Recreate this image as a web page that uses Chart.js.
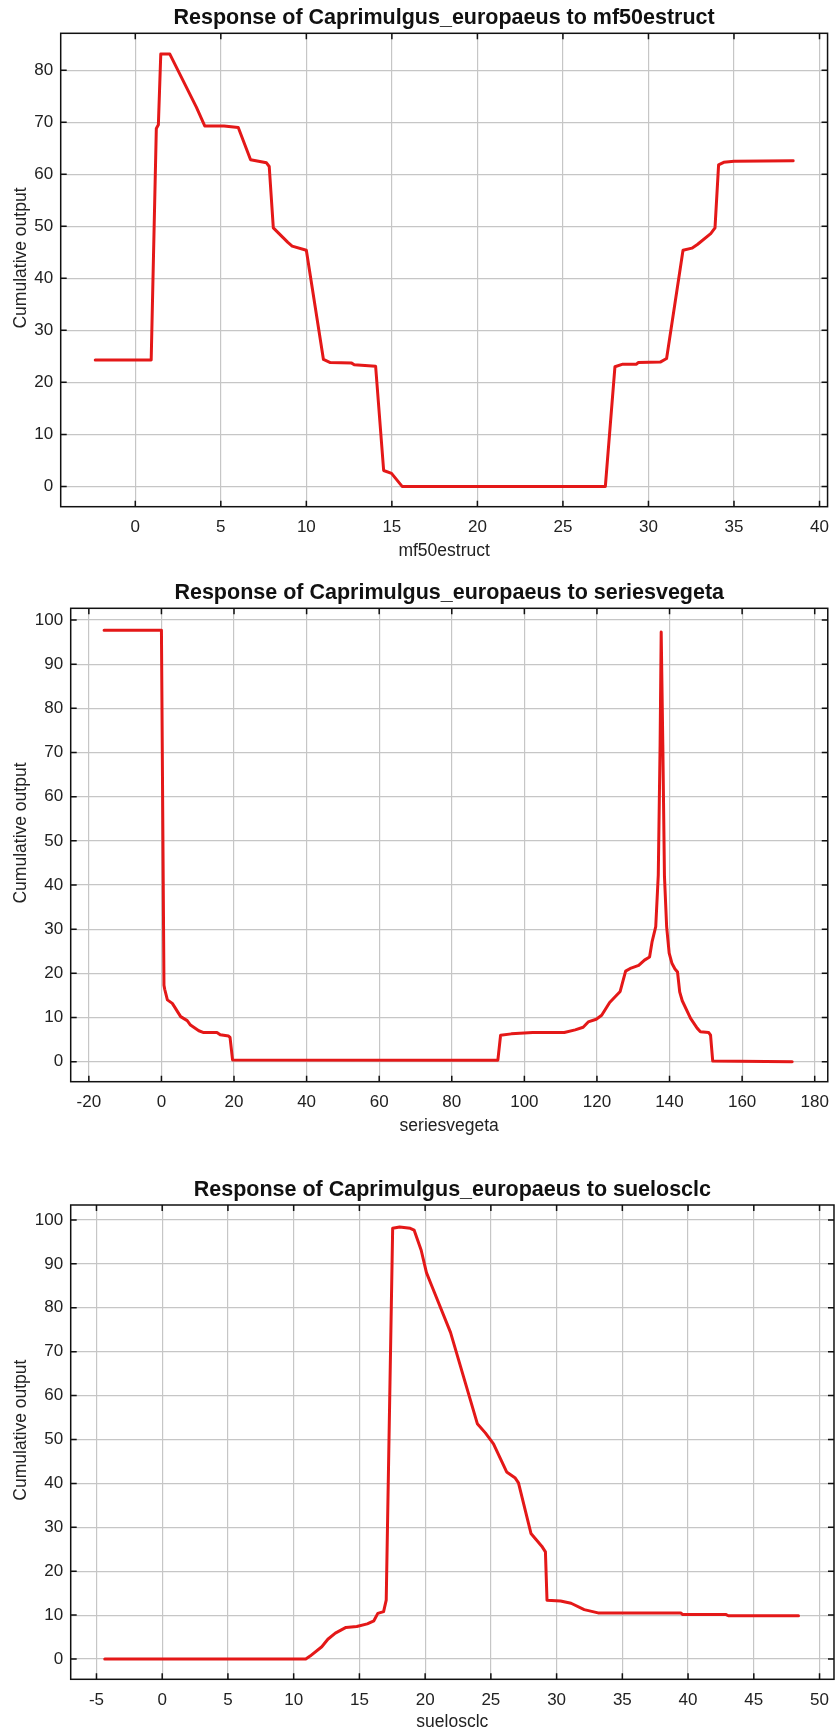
<!DOCTYPE html>
<html>
<head>
<meta charset="utf-8">
<script src="https://cdn.jsdelivr.net/npm/chart.js@4.4.0/dist/chart.umd.min.js"></script>
<style>
  html, body { margin: 0; padding: 0; background: #fff; }
  body { position: relative; width: 840px; height: 1733px; overflow: hidden; }
  canvas { position: absolute; left: 0; }
</style>
</head>
<body>
<canvas id="c1" width="840" height="575" style="top:0px"></canvas>
<canvas id="c2" width="840" height="575" style="top:575px"></canvas>
<canvas id="c3" width="840" height="561" style="top:1172px"></canvas>
<script>
// response curve 1: mf50estruct
const mfX = [-2.34, 0.93, 1.23, 1.35, 1.49, 2.02, 3.57, 4.06, 5.19, 6.02, 6.74, 7.67, 7.83, 8.07, 8.92, 9.17, 10.0, 11.0, 11.4, 12.65, 12.8, 14.05, 14.52, 14.98, 15.6, 27.48, 28.04, 28.5, 29.3, 29.4, 30.69, 31.06, 32.02, 32.54, 32.86, 33.64, 33.89, 34.1, 34.4, 35.0, 38.46];
const mfY = [24.3, 24.3, 68.8, 69.5, 83.1, 83.1, 72.9, 69.3, 69.3, 69.0, 62.8, 62.2, 61.5, 49.7, 46.9, 46.2, 45.4, 24.4, 23.8, 23.7, 23.4, 23.1, 3.06, 2.5, 0, 0, 23.0, 23.5, 23.5, 23.8, 23.9, 24.6, 45.4, 45.8, 46.5, 48.6, 49.7, 61.8, 62.3, 62.5, 62.6];
const mfTicksX = [0, 5, 10, 15, 20, 25, 30, 35, 40];
const mfTicksY = [0, 10, 20, 30, 40, 50, 60, 70, 80];

// response curve 2: seriesvegeta
const svX = [-15.8, 0, 0.7, 0.9, 1.64, 3.0, 5.3, 7.1, 8.0, 10.3, 11.65, 15.3, 16.2, 18.5, 18.9, 19.6, 92.7, 93.45, 96.4, 102.3, 111.0, 114.0, 116.2, 117.6, 119.8, 121.3, 123.5, 126.4, 127.9, 129.4, 131.5, 133.1, 134.5, 135.2, 136.2, 136.9, 137.4, 137.7, 138.15, 138.6, 139.2, 139.9, 140.65, 141.5, 142.2, 142.8, 143.5, 145.8, 147.6, 148.5, 150.8, 151.3, 151.9, 173.8];
const svY = [97.7, 97.7, 17.3, 16.4, 14.0, 13.2, 10.2, 9.3, 8.3, 7.0, 6.6, 6.6, 6.1, 5.8, 5.5, 0.4, 0.35, 6.0, 6.3, 6.6, 6.6, 7.2, 7.8, 9.0, 9.6, 10.5, 13.4, 15.9, 20.5, 21.2, 21.8, 23.0, 23.7, 27.2, 30.6, 42.3, 71.7, 97.3, 71.7, 42.0, 30.6, 24.6, 22.3, 21.0, 20.3, 15.8, 13.8, 9.8, 7.6, 6.8, 6.6, 6.0, 0.15, 0.0];
const svTicksX = [-20, 0, 20, 40, 60, 80, 100, 120, 140, 160, 180];
const svTicksY = [0, 10, 20, 30, 40, 50, 60, 70, 80, 90, 100];

// response curve 3: suelosclc
const suX = [-4.37, 10.92, 11.25, 12.14, 12.6, 13.17, 13.98, 14.8, 15.6, 16.1, 16.4, 16.84, 17.04, 17.53, 18.06, 18.87, 19.16, 19.7, 20.1, 20.5, 21.93, 23.97, 24.58, 25.2, 26.2, 26.83, 27.1, 28.05, 28.87, 29.15, 29.27, 30.3, 31.1, 32.1, 33.15, 39.44, 39.57, 42.86, 43.06, 48.4];
const suY = [0, 0, 0.66, 2.8, 4.5, 5.9, 7.2, 7.4, 8.0, 8.7, 10.4, 10.8, 13.4, 98.1, 98.4, 98.1, 97.7, 93.1, 88.0, 85.0, 74.4, 53.6, 51.5, 49.0, 42.6, 41.3, 40.1, 28.6, 25.7, 24.4, 13.4, 13.2, 12.7, 11.25, 10.5, 10.5, 10.15, 10.15, 9.85, 9.85];
const suTicksX = [-5, 0, 5, 10, 15, 20, 25, 30, 35, 40, 45, 50];
const suTicksY = [0, 10, 20, 30, 40, 50, 60, 70, 80, 90, 100];

const FONT = "'Liberation Sans', Arial, sans-serif";
Chart.defaults.font.family = FONT;

// box round the plot, inward tick marks on all four sides, y axis title
const framePlugin = {
  id: 'frame',
  afterDraw(chart, args, opts) {
    const { ctx, chartArea: a, scales: { x, y } } = chart;
    ctx.save();
    ctx.strokeStyle = '#111';
    ctx.lineWidth = 1.5;
    ctx.beginPath();
    x.ticks.forEach(t => {
      const px = x.getPixelForValue(t.value);
      ctx.moveTo(px, a.bottom); ctx.lineTo(px, a.bottom - 6);
      ctx.moveTo(px, a.top); ctx.lineTo(px, a.top + 6);
    });
    y.ticks.forEach(t => {
      const py = y.getPixelForValue(t.value);
      ctx.moveTo(a.left, py); ctx.lineTo(a.left + 6, py);
      ctx.moveTo(a.right, py); ctx.lineTo(a.right - 6, py);
    });
    ctx.stroke();
    ctx.strokeRect(a.left, a.top, a.right - a.left, a.bottom - a.top);

    ctx.translate(21.5, (a.top + a.bottom) / 2 - 12);
    ctx.rotate(-Math.PI / 2);
    ctx.font = '17.5px ' + FONT;
    ctx.fillStyle = '#222';
    ctx.textAlign = 'center';
    ctx.textBaseline = 'middle';
    ctx.fillText(opts.text, 0, 0);
    ctx.restore();
  }
};

function makeChart(id, xs, ys, ticksX, ticksY, range, title, xTitle, box) {
  const canvasH = document.getElementById(id).height;
  const axisH = canvasH - box.bottom;
  const titlePadBottom = Math.max(0, axisH - 44.5 - 10.5);
  return new Chart(document.getElementById(id), {
    type: 'line',
    data: {
      datasets: [{
        data: xs.map((v, i) => ({ x: v, y: ys[i] })),
        borderColor: 'rgb(228, 24, 24)',
        borderWidth: 3,
        pointRadius: 0,
        tension: 0,
        borderJoinStyle: 'round',
        borderCapStyle: 'round'
      }]
    },
    options: {
      responsive: false,
      animation: false,
      devicePixelRatio: 1,
      layout: { padding: { left: 0, right: 840 - box.right, top: 0, bottom: 0 } },
      plugins: {
        legend: { display: false },
        tooltip: { enabled: false },
        title: {
          display: true,
          text: title,
          fullSize: false,
          color: '#111',
          font: { size: 21.5, weight: 'bold' },
          padding: { top: 5.5, bottom: box.top - 5.5 - 25.8 }
        },
        frame: { text: 'Cumulative output' }
      },
      scales: {
        x: {
          type: 'linear',
          min: range[0], max: range[1],
          afterBuildTicks: s => { s.ticks = ticksX.map(v => ({ value: v })); },
          afterFit: s => { s.height = axisH; },
          grid: { color: '#c6c6c6', lineWidth: 1.2, drawTicks: false },
          border: { display: false },
          ticks: { color: '#222', font: { size: 17 }, padding: 10.9, maxRotation: 0, autoSkip: false },
          title: { display: true, text: xTitle, color: '#222', font: { size: 17.5 }, padding: { top: 0, bottom: titlePadBottom } }
        },
        y: {
          type: 'linear',
          min: range[2], max: range[3],
          afterBuildTicks: s => { s.ticks = ticksY.map(v => ({ value: v })); },
          afterFit: s => { s.width = box.left; },
          grid: { color: '#c6c6c6', lineWidth: 1.2, drawTicks: false },
          border: { display: false },
          ticks: { color: '#222', font: { size: 17 }, padding: 7.5, autoSkip: false }
        }
      }
    },
    plugins: [framePlugin]
  });
}

makeChart('c1', mfX, mfY, mfTicksX, mfTicksY, [-4.36, 40.47, -3.9, 87.1],
  'Response of Caprimulgus_europaeus to mf50estruct', 'mf50estruct',
  { left: 60.7, top: 33.3, right: 835, bottom: 506.7 });

makeChart('c2', svX, svY, svTicksX, svTicksY, [-25.0, 183.6, -4.53, 102.65],
  'Response of Caprimulgus_europaeus to seriesvegeta', 'seriesvegeta',
  { left: 70.7, top: 33.3, right: 835.3, bottom: 506.7 });

makeChart('c3', suX, suY, suTicksX, suTicksY, [-6.96, 51.1, -4.62, 103.4],
  'Response of Caprimulgus_europaeus to suelosclc', 'suelosclc',
  { left: 70.7, top: 33, right: 835.3, bottom: 507.3 });
</script>
</body>
</html>
